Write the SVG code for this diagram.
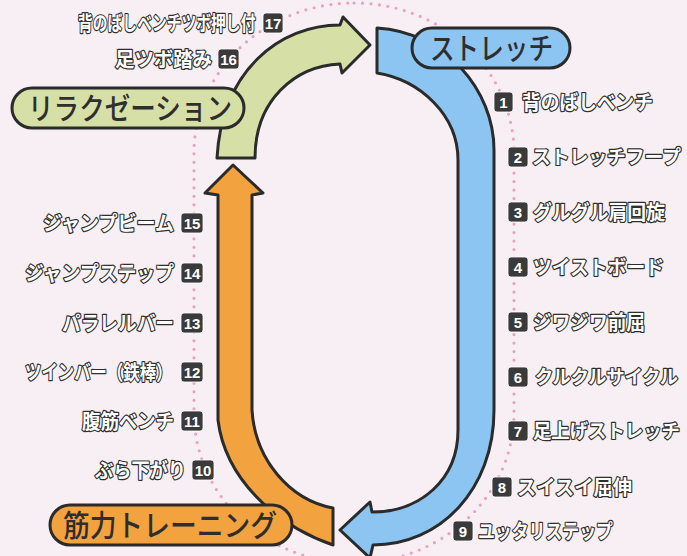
<svg xmlns="http://www.w3.org/2000/svg" width="687" height="556" viewBox="0 0 687 556">
<style>
.arr{stroke:#2b2b2b;stroke-width:3;stroke-linejoin:round}
.pill{stroke:#2b2b2b;stroke-width:3}
.pt{font-family:"Noto Sans CJK JP",sans-serif;font-weight:500;font-size:30px;fill:#2e2e2e}
.it{font-family:"Noto Sans CJK JP",sans-serif;font-weight:700;font-size:20px;fill:#fff;stroke:#2e2e2e;stroke-width:2.4px;paint-order:stroke;stroke-linejoin:round}
.sm{font-size:19px}
.bd{fill:#3a3a3a;stroke:#fff;stroke-width:0.8}
.bn{font-family:"Liberation Sans",Arial,sans-serif;font-weight:700;font-size:15px;fill:#fff;text-anchor:middle}
</style>
<rect width="687" height="556" fill="#f7eff3"/>
<rect x="194" y="3" width="320" height="560" rx="160" ry="150" fill="none" stroke="#eaa3bf" stroke-width="3.2" stroke-dasharray="0 8.5" stroke-linecap="round"/>
<g id="connectors">
<path class="arr" fill="#d6dfa6" d="M217,158 C222,70 280,25 340,25 L343,17 L370,45 L342,73 L340,64 C295,66 255,100 255,158 Z"/>
<path class="arr" fill="#8cc5f2" d="M377,28 C445,32 494,90 494,150 L494,410 C494,490 440,545 373,545 L370,558 L340,530 L370,502 L372,512 C420,512 458,480 458,430 L458,160 C458,115 420,80 377,73 Z"/>
<path class="arr" fill="#f2a23e" d="M233,165 L263,193 L252,195 L252,410 C255,460 290,500 333,508 L333,545 C275,525 225,478 218,420 L218,195 L205,193 Z"/>
</g>
<g id="node-relax">
<rect class="pill" x="12" y="88" width="232" height="40" rx="20" fill="#d6dfa6"/>
<text class="pt" x="28" y="119" textLength="204" lengthAdjust="spacingAndGlyphs">リラクゼーション</text>
</g>
<g id="node-stretch">
<rect class="pill" x="412" y="28" width="158" height="40" rx="20" fill="#8cc5f2"/>
<text class="pt" x="430" y="59" textLength="123" lengthAdjust="spacingAndGlyphs">ストレッチ</text>
</g>
<g id="node-muscle">
<rect class="pill" x="50" y="505" width="242" height="40" rx="20" fill="#f2a23e"/>
<text class="pt" x="63" y="536" textLength="214" lengthAdjust="spacingAndGlyphs">筋力トレーニング</text>
</g>
<g id="item-1"><rect class="bd" x="494" y="92" width="19" height="20" rx="3"/><text class="bn" x="503.5" y="107.5">1</text><text class="it" x="522" y="109.5" textLength="131" lengthAdjust="spacingAndGlyphs">背のばしベンチ</text></g>
<g id="item-2"><rect class="bd" x="508" y="147" width="20" height="20" rx="3"/><text class="bn" x="518" y="162.5">2</text><text class="it sm" x="532" y="164" textLength="149" lengthAdjust="spacingAndGlyphs">ストレッチフープ</text></g>
<g id="item-3"><rect class="bd" x="508" y="202" width="20" height="20" rx="3"/><text class="bn" x="518" y="217.5">3</text><text class="it" x="533" y="219.5" textLength="132" lengthAdjust="spacingAndGlyphs">グルグル肩回旋</text></g>
<g id="item-4"><rect class="bd" x="508" y="257" width="20" height="20" rx="3"/><text class="bn" x="518" y="272.5">4</text><text class="it" x="533" y="274.5" textLength="131" lengthAdjust="spacingAndGlyphs">ツイストボード</text></g>
<g id="item-5"><rect class="bd" x="508" y="312" width="20" height="20" rx="3"/><text class="bn" x="518" y="327.5">5</text><text class="it" x="533" y="329.5" textLength="112" lengthAdjust="spacingAndGlyphs">ジワジワ前屈</text></g>
<g id="item-6"><rect class="bd" x="508" y="367" width="20" height="20" rx="3"/><text class="bn" x="518" y="382.5">6</text><text class="it sm" x="535" y="384" textLength="143" lengthAdjust="spacingAndGlyphs">クルクルサイクル</text></g>
<g id="item-7"><rect class="bd" x="508" y="421" width="20" height="20" rx="3"/><text class="bn" x="518" y="436.5">7</text><text class="it sm" x="533" y="438" textLength="147" lengthAdjust="spacingAndGlyphs">足上げストレッチ</text></g>
<g id="item-8"><rect class="bd" x="492" y="477" width="20" height="20" rx="3"/><text class="bn" x="502" y="492.5">8</text><text class="it" x="517" y="494.5" textLength="115" lengthAdjust="spacingAndGlyphs">スイスイ屈伸</text></g>
<g id="item-9"><rect class="bd" x="453" y="521" width="20" height="20" rx="3"/><text class="bn" x="463" y="536.5">9</text><text class="it" x="478" y="538.5" textLength="135" lengthAdjust="spacingAndGlyphs">ユッタリステップ</text></g>
<g id="item-10"><rect class="bd" x="192" y="460" width="22" height="20" rx="3"/><text class="bn" x="203" y="475.5">10</text><text class="it" x="95" y="477.5" textLength="91" lengthAdjust="spacingAndGlyphs">ぶら下がり</text></g>
<g id="item-11"><rect class="bd" x="181" y="411" width="22" height="20" rx="3"/><text class="bn" x="192" y="426.5">11</text><text class="it" x="82" y="428.5" textLength="92" lengthAdjust="spacingAndGlyphs">腹筋ベンチ</text></g>
<g id="item-12"><rect class="bd" x="181" y="362" width="22" height="20" rx="3"/><text class="bn" x="192" y="377.5">12</text><text class="it" transform="translate(25,379.5) scale(0.82,1)" x="0" y="0">ツインバー（鉄棒）</text></g>
<g id="item-13"><rect class="bd" x="181" y="313" width="22" height="20" rx="3"/><text class="bn" x="192" y="328.5">13</text><text class="it" x="62" y="330.5" textLength="112" lengthAdjust="spacingAndGlyphs">パラレルバー</text></g>
<g id="item-14"><rect class="bd" x="181" y="263" width="22" height="20" rx="3"/><text class="bn" x="192" y="278.5">14</text><text class="it" x="25" y="280.5" textLength="149" lengthAdjust="spacingAndGlyphs">ジャンプステップ</text></g>
<g id="item-15"><rect class="bd" x="181" y="213" width="22" height="20" rx="3"/><text class="bn" x="192" y="228.5">15</text><text class="it" x="43" y="230.5" textLength="131" lengthAdjust="spacingAndGlyphs">ジャンプビーム</text></g>
<g id="item-16"><rect class="bd" x="218" y="49" width="21" height="20" rx="3"/><text class="bn" x="228.5" y="64.5">16</text><text class="it" x="115" y="66.5" textLength="97" lengthAdjust="spacingAndGlyphs">足ツボ踏み</text></g>
<g id="item-17"><rect class="bd" x="263" y="13" width="20" height="20" rx="3"/><text class="bn" x="273" y="28.5">17</text><text class="it" transform="translate(78,30.5) scale(0.74,1)" x="0" y="0">背のばしベンチツボ押し付</text></g>
</svg>
